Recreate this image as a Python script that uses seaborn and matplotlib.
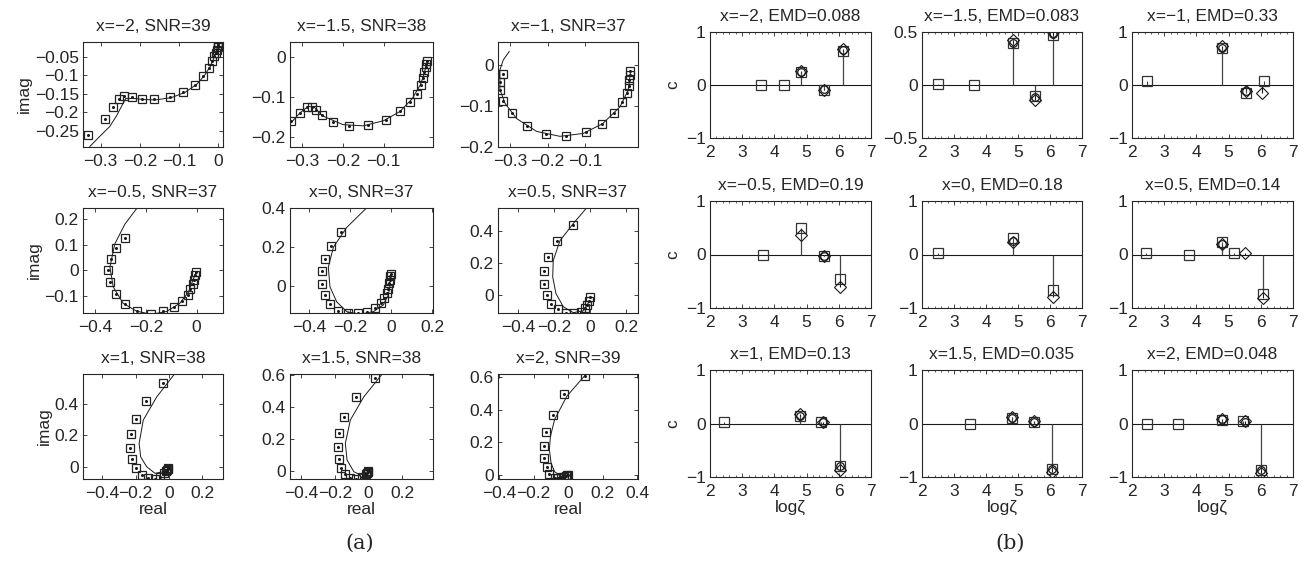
import numpy as np
import matplotlib
matplotlib.use("Agg")
import matplotlib.pyplot as plt
from matplotlib.ticker import FuncFormatter, AutoMinorLocator
import seaborn as sns

# ---- (a) Nyquist panels: measured points (squares) and model curve ----
x_vals = [-2, -1.5, -1, -0.5, 0, 0.5, 1, 1.5, 2]
snr = [39, 38, 37, 37, 37, 37, 38, 38, 39]
emd = [0.088, 0.083, 0.33, 0.19, 0.18, 0.14, 0.13, 0.035, 0.048]

re1 = [-0.333, -0.29, -0.268, -0.253, -0.241, -0.22, -0.194, -0.163, -0.123, -0.089, -0.06, -0.038,
       -0.024, -0.015, -0.01, -0.006, -0.004, -0.002, -0.001, 0.0]
im1 = [-0.261, -0.218, -0.184, -0.163, -0.155, -0.157, -0.163, -0.164, -0.159, -0.145, -0.125, -0.101,
       -0.079, -0.061, -0.049, -0.039, -0.031, -0.024, -0.018, -0.013]
fit_re1 = [-0.328, -0.3, -0.277, -0.26, -0.247, -0.236, -0.215, -0.19, -0.16, -0.12, -0.085, -0.055,
           -0.035, -0.02, -0.01, -0.004, 0.0]
fit_im1 = [-0.292, -0.262, -0.238, -0.21, -0.184, -0.162, -0.162, -0.165, -0.166, -0.16, -0.146, -0.124,
           -0.1, -0.075, -0.05, -0.03, -0.01]

re2 = [-0.327, -0.305, -0.289, -0.276, -0.267, -0.252, -0.224, -0.184, -0.139, -0.094, -0.06, -0.036,
       -0.019, -0.009, -0.003, 0.0, 0.003, 0.005, 0.006]
im2 = [-0.162, -0.142, -0.127, -0.125, -0.133, -0.147, -0.164, -0.173, -0.172, -0.158, -0.137, -0.114,
       -0.092, -0.071, -0.054, -0.037, -0.025, -0.017, -0.011]
fit_re2 = [-0.33, -0.305, -0.285, -0.27, -0.25, -0.2, -0.15, -0.1, -0.06, -0.03, -0.01, 0.0, 0.005]
fit_im2 = [-0.168, -0.14, -0.124, -0.127, -0.148, -0.17, -0.173, -0.16, -0.137, -0.105, -0.07, -0.04, -0.015]

re3 = [-0.32, -0.327, -0.327, -0.318, -0.294, -0.255, -0.205, -0.151, -0.097, -0.054, -0.023, -0.002,
       0.011, 0.016, 0.018, 0.02, 0.021]
im3 = [-0.022, -0.041, -0.06, -0.088, -0.118, -0.149, -0.169, -0.172, -0.163, -0.143, -0.116, -0.09,
       -0.069, -0.051, -0.036, -0.024, -0.014]
fit_re3 = [-0.302, -0.318, -0.327, -0.327, -0.313, -0.282, -0.229, -0.167, -0.105, -0.053, -0.007, 0.015, 0.021]
fit_im3 = [0.033, 0.012, -0.012, -0.06, -0.094, -0.131, -0.162, -0.174, -0.167, -0.143, -0.102, -0.061, -0.017]

re4 = [-0.282, -0.318, -0.337, -0.348, -0.341, -0.319, -0.282, -0.236, -0.18, -0.131, -0.089, -0.057,
       -0.035, -0.024, -0.016, -0.011, -0.007, -0.003]
im4 = [0.125, 0.087, 0.045, 0.0, -0.045, -0.094, -0.133, -0.159, -0.17, -0.161, -0.142, -0.119,
       -0.097, -0.075, -0.055, -0.037, -0.02, -0.008]
fit_re4 = [-0.222, -0.282, -0.322, -0.341, -0.328, -0.289, -0.236, -0.177, -0.118, -0.066, -0.033, -0.013, -0.003]
fit_im4 = [0.26, 0.181, 0.103, 0.013, -0.065, -0.129, -0.16, -0.172, -0.161, -0.129, -0.087, -0.035, -0.008]

re5 = [-0.245, -0.294, -0.322, -0.338, -0.338, -0.322, -0.298, -0.257, -0.208, -0.16, -0.116, -0.078,
       -0.05, -0.034, -0.021, -0.013, -0.008, -0.005, -0.003, -0.002]
im5 = [0.279, 0.208, 0.141, 0.076, 0.01, -0.046, -0.091, -0.125, -0.139, -0.138, -0.13, -0.113,
       -0.088, -0.062, -0.037, -0.012, 0.014, 0.034, 0.05, 0.062]
fit_re5 = [-0.1, -0.216, -0.281, -0.306, -0.298, -0.265, -0.216, -0.151, -0.086, -0.038, -0.013, -0.005]
fit_im5 = [0.42, 0.301, 0.2, 0.098, -0.003, -0.08, -0.13, -0.143, -0.13, -0.096, -0.045, 0.0]

re6 = [-0.096, -0.181, -0.235, -0.256, -0.256, -0.241, -0.219, -0.18, -0.133, -0.089, -0.052, -0.028,
       -0.015, -0.004, 0.0]
im6 = [0.435, 0.336, 0.24, 0.15, 0.068, 0.0, -0.055, -0.088, -0.109, -0.113, -0.102, -0.082,
       -0.062, -0.035, -0.01]
fit_re6 = [-0.005, -0.093, -0.167, -0.204, -0.207, -0.189, -0.148, -0.093, -0.037, -0.004]
fit_im6 = [0.56, 0.445, 0.338, 0.215, 0.113, 0.01, -0.072, -0.109, -0.097, -0.04]

re7 = [-0.034, -0.14, -0.198, -0.226, -0.234, -0.222, -0.2, -0.164, -0.124, -0.084, -0.054, -0.03,
       -0.02, -0.012, -0.008, -0.005]
im7 = [0.532, 0.418, 0.304, 0.205, 0.116, 0.047, -0.01, -0.053, -0.074, -0.075, -0.067, -0.042,
       -0.03, -0.02, -0.012, -0.006]
fit_re7 = [0.05, -0.073, -0.154, -0.179, -0.17, -0.134, -0.084, -0.034, -0.005]
fit_im7 = [0.61, 0.443, 0.296, 0.148, 0.063, 0.0, -0.042, -0.032, -0.01]

re8 = [0.036, -0.072, -0.144, -0.174, -0.181, -0.178, -0.163, -0.138, -0.108, -0.072, -0.038, -0.018,
       -0.01, -0.005, -0.002]
im8 = [0.579, 0.46, 0.34, 0.24, 0.148, 0.075, 0.017, -0.019, -0.045, -0.047, -0.035, -0.02,
       -0.01, -0.004, 0.0]
fit_re8 = [0.1, -0.028, -0.108, -0.138, -0.128, -0.088, -0.048, -0.01]
fit_im8 = [0.63, 0.464, 0.319, 0.173, 0.069, -0.004, -0.025, -0.005]

re9 = [0.097, -0.022, -0.089, -0.129, -0.139, -0.139, -0.125, -0.109, -0.079, -0.06, -0.04, -0.025,
       -0.015, -0.008, -0.003]
im9 = [0.61, 0.495, 0.371, 0.264, 0.175, 0.103, 0.047, 0.006, -0.017, -0.02, -0.015, -0.01,
       -0.006, -0.003, 0.0]
fit_re9 = [0.12, -0.008, -0.079, -0.103, -0.109, -0.099, -0.079, -0.038, 0.0]
fit_im9 = [0.64, 0.484, 0.34, 0.237, 0.155, 0.072, 0.02, -0.01, -0.005]

# ---- (b) stem panels: squares = estimate, diamonds = true, circles ----
sq_x1, sq_y1 = [3.58, 4.31, 4.83, 5.55, 6.13], [0.0, 0.0, 0.25, -0.09, 0.65]
dia_x1, dia_y1 = [4.83, 5.55, 6.13], [0.27, -0.1, 0.68]
ci_x1, ci_y1 = [4.83, 5.55, 6.13], [0.25, -0.08, 0.66]

sq_x2, sq_y2 = [2.5, 3.62, 4.84, 5.54, 6.08], [0.01, 0.0, 0.4, -0.1, 0.47]
dia_x2, dia_y2 = [4.84, 5.54, 6.08], [0.42, -0.14, 0.5]
ci_x2, ci_y2 = [4.84, 5.54, 6.08], [0.4, -0.11, 0.48]

sq_x3, sq_y3 = [2.47, 4.81, 5.54, 6.11], [0.08, 0.7, -0.15, 0.08]
dia_x3, dia_y3 = [4.81, 5.54, 6.04], [0.73, -0.12, -0.16]
ci_x3, ci_y3 = [4.81, 5.54], [0.7, -0.12]

sq_x4, sq_y4 = [3.65, 4.82, 5.53, 6.05], [0.0, 0.5, -0.03, -0.46]
dia_x4, dia_y4 = [4.82, 5.53, 6.05], [0.36, -0.03, -0.61]
ci_x4, ci_y4 = [5.53], [-0.02]

sq_x5, sq_y5 = [2.5, 4.84, 6.08], [0.02, 0.31, -0.66]
dia_x5, dia_y5 = [4.84, 6.08], [0.23, -0.79]
ci_x5, ci_y5 = [4.84], [0.25]

sq_x6, sq_y6 = [2.45, 3.76, 4.8, 5.17, 6.06], [0.02, 0.0, 0.23, 0.02, -0.73]
dia_x6, dia_y6 = [4.8, 5.51, 6.06], [0.19, 0.02, -0.82]
ci_x6, ci_y6 = [4.8], [0.19]

sq_x7, sq_y7 = [2.43, 4.8, 5.45, 6.03], [0.02, 0.14, 0.02, -0.8]
dia_x7, dia_y7 = [4.8, 5.51, 6.03], [0.17, 0.02, -0.86]
ci_x7, ci_y7 = [4.8, 5.51, 6.03], [0.14, 0.02, -0.8]

sq_x8, sq_y8 = [3.5, 4.81, 5.51, 6.05], [0.0, 0.11, 0.03, -0.85]
dia_x8, dia_y8 = [4.81, 5.51, 6.05], [0.13, 0.04, -0.91]
ci_x8, ci_y8 = [4.81, 5.51, 6.05], [0.11, 0.03, -0.85]

sq_x9, sq_y9 = [2.46, 3.42, 4.81, 5.44, 6.02], [0.0, 0.0, 0.07, 0.04, -0.86]
dia_x9, dia_y9 = [4.81, 5.52, 6.02], [0.09, 0.04, -0.93]
ci_x9, ci_y9 = [4.81, 5.52, 6.02], [0.08, 0.03, -0.86]

pts_re = [re1, re2, re3, re4, re5, re6, re7, re8, re9]
pts_im = [im1, im2, im3, im4, im5, im6, im7, im8, im9]
fits_re = [fit_re1, fit_re2, fit_re3, fit_re4, fit_re5, fit_re6, fit_re7, fit_re8, fit_re9]
fits_im = [fit_im1, fit_im2, fit_im3, fit_im4, fit_im5, fit_im6, fit_im7, fit_im8, fit_im9]
stems = [(sq_x1, sq_y1, dia_x1, dia_y1, ci_x1, ci_y1), (sq_x2, sq_y2, dia_x2, dia_y2, ci_x2, ci_y2),
         (sq_x3, sq_y3, dia_x3, dia_y3, ci_x3, ci_y3), (sq_x4, sq_y4, dia_x4, dia_y4, ci_x4, ci_y4),
         (sq_x5, sq_y5, dia_x5, dia_y5, ci_x5, ci_y5), (sq_x6, sq_y6, dia_x6, dia_y6, ci_x6, ci_y6),
         (sq_x7, sq_y7, dia_x7, dia_y7, ci_x7, ci_y7), (sq_x8, sq_y8, dia_x8, dia_y8, ci_x8, ci_y8),
         (sq_x9, sq_y9, dia_x9, dia_y9, ci_x9, ci_y9)]

# axis limits / ticks of the (a) panels
left_xlim = [(-0.345, 0.012), (-0.33, 0.021), (-0.332, 0.041), (-0.447, 0.104), (-0.493, 0.205),
             (-0.511, 0.267), (-0.515, 0.323), (-0.467, 0.383), (-0.406, 0.403)]
left_ylim = [(-0.293, -0.01), (-0.226, 0.037), (-0.2, 0.056), (-0.167, 0.244), (-0.137, 0.396),
             (-0.111, 0.542), (-0.078, 0.587), (-0.05, 0.606), (-0.025, 0.62)]
left_xt = [[-0.3, -0.2, -0.1, 0], [-0.3, -0.2, -0.1], [-0.3, -0.2, -0.1], [-0.4, -0.2, 0],
           [-0.4, -0.2, 0, 0.2], [-0.4, -0.2, 0, 0.2], [-0.4, -0.2, 0, 0.2], [-0.4, -0.2, 0, 0.2],
           [-0.4, -0.2, 0, 0.2, 0.4]]
left_yt = [[-0.25, -0.2, -0.15, -0.1, -0.05], [-0.2, -0.1, 0], [-0.2, -0.1, 0], [-0.1, 0, 0.1, 0.2],
           [0, 0.2, 0.4], [0, 0.2, 0.4], [0, 0.2, 0.4], [0, 0.2, 0.4, 0.6], [0, 0.2, 0.4, 0.6]]

sns.set_theme(style="ticks")
plt.rcParams['font.family'] = ['Liberation Sans', 'DejaVu Sans']
plt.rcParams['axes.linewidth'] = 0.8
plt.rcParams['xtick.direction'] = 'in'
plt.rcParams['ytick.direction'] = 'in'

FS = 12.5
W, H = 1316, 569
fig = plt.figure(figsize=(W / 100, H / 100), dpi=100)


def box(l, t, r, b):
    return fig.add_axes([l / W, 1 - b / H, (r - l) / W, (b - t) / H])


fmt = FuncFormatter(lambda v, p: f"{v:g}".replace("-", "\u2212"))

L_cols = [(83, 223), (290, 433), (498, 638)]
L_rows = [(42, 147), (208, 313), (374, 479)]
R_cols = [(710, 871), (922, 1082), (1132, 1293)]
R_rows = [(32, 138), (201, 308), (370, 477)]


def style_ticks(ax):
    ax.xaxis.set_major_formatter(fmt)
    ax.yaxis.set_major_formatter(fmt)
    ax.tick_params(which='major', top=True, right=True, length=3, width=0.6, labelsize=FS)
    ax.tick_params(axis='x', which='major', pad=5)
    ax.tick_params(axis='y', which='major', pad=3)


for i in range(9):
    r, c = divmod(i, 3)
    # ---- left: Nyquist ----
    ax = box(L_cols[c][0], L_rows[r][0], L_cols[c][1], L_rows[r][1])
    sns.lineplot(x=fits_re[i], y=fits_im[i], sort=False, estimator=None, color='k', lw=0.7, ax=ax)
    sns.lineplot(x=pts_re[i], y=pts_im[i], sort=False, estimator=None, color='k', linestyle='',
                 marker='s', markersize=6, markerfacecolor='none', markeredgecolor='#222222',
                 markeredgewidth=0.9, ax=ax)
    sns.lineplot(x=pts_re[i], y=pts_im[i], sort=False, estimator=None, color='k', linestyle='',
                 marker='o', markersize=2.2, markeredgecolor='k', markeredgewidth=0, ax=ax)
    ax.set_xlim(left_xlim[i])
    ax.set_ylim(left_ylim[i])
    ax.set_xticks(left_xt[i])
    ax.set_yticks(left_yt[i])
    style_ticks(ax)
    ax.set_title(f"x={x_vals[i]:g}, SNR={snr[i]}".replace("-", "\u2212"), fontsize=FS, pad=8)
    ax.set_xlabel("real" if r == 2 else "", fontsize=FS, labelpad=1)
    ax.set_ylabel("imag" if c == 0 else "", fontsize=FS, labelpad=2)

    # ---- right: stems ----
    sx, sy, dx, dy, cx, cy = stems[i]
    ax = box(R_cols[c][0], R_rows[r][0], R_cols[c][1], R_rows[r][1])
    ax.axhline(0, color='k', lw=0.8)
    ax.vlines(dx, 0, dy, color='k', lw=0.8)
    ax.vlines(sx, 0, sy, color='#444444', lw=0.8)
    sns.lineplot(x=sx, y=sy, sort=False, estimator=None, color='k', linestyle='', marker='s',
                 markersize=6.5, markerfacecolor='none', markeredgecolor='#333333',
                 markeredgewidth=0.9, ax=ax)
    sns.lineplot(x=dx, y=dy, sort=False, estimator=None, color='k', linestyle='', marker='D',
                 markersize=6, markerfacecolor='none', markeredgecolor='k',
                 markeredgewidth=0.8, ax=ax)
    sns.lineplot(x=cx, y=cy, sort=False, estimator=None, color='k', linestyle='', marker='o',
                 markersize=5.5, markerfacecolor='none', markeredgecolor='k',
                 markeredgewidth=0.9, ax=ax)
    ax.set_xlim(2, 7)
    ax.set_xticks([2, 3, 4, 5, 6, 7])
    if i == 1:
        ax.set_ylim(-0.5, 0.5)
        ax.set_yticks([-0.5, 0, 0.5])
    else:
        ax.set_ylim(-1, 1)
        ax.set_yticks([-1, 0, 1])
    ax.xaxis.set_minor_locator(AutoMinorLocator(5))
    style_ticks(ax)
    ax.tick_params(which='minor', top=True, length=1.5, width=0.5)
    ax.set_title(f"x={x_vals[i]:g}, EMD={emd[i]:g}".replace("-", "\u2212"), fontsize=FS, pad=8)
    ax.set_xlabel("log\u03b6" if r == 2 else "", fontsize=FS, labelpad=1)
    ax.set_ylabel("c" if c == 0 else "", fontsize=FS, labelpad=4)

fig.text(360 / W, 1 - 543 / H, "(a)", ha='center', va='center', fontsize=15, family='DejaVu Serif')
fig.text(1010 / W, 1 - 543 / H, "(b)", ha='center', va='center', fontsize=15, family='DejaVu Serif')

fig.savefig("out.png", dpi=100)
